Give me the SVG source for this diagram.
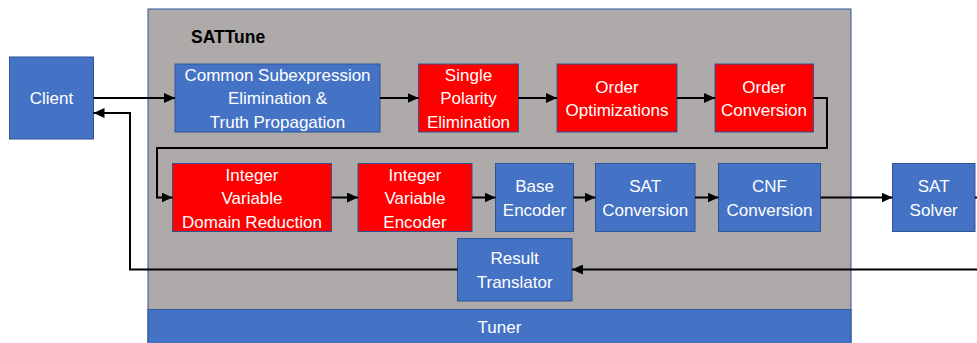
<svg xmlns="http://www.w3.org/2000/svg" width="977" height="343" viewBox="0 0 977 343">
<defs>
<style>
.blue{fill:#4472C4;stroke:#2F5597;stroke-width:1}
.red{fill:#FF0000;stroke:#2F5597;stroke-width:1}
.t{font-family:"Liberation Sans",Arial,sans-serif;font-size:17px;fill:#FFFFFF;text-anchor:middle}
.c{fill:none;stroke:#000;stroke-width:2}
</style>
<marker id="ah" markerUnits="userSpaceOnUse" markerWidth="12" markerHeight="10" refX="11" refY="5" orient="auto">
<path d="M0,0 L11,5 L0,10 Z" fill="#000"/>
</marker>
</defs>
<rect width="977" height="343" fill="#FFFFFF"/>
<g id="sattune">
<rect x="148" y="9" width="703" height="340" fill="#AEAAAA" stroke="#2F5597" stroke-width="1"/>
<text x="191" y="43" style="font-family:'Liberation Sans',Arial,sans-serif;font-size:17.5px;font-weight:bold;fill:#000">SATTune</text>
</g>
<g id="tuner">
<rect x="148" y="309.5" width="703" height="40" class="blue"/>
<text class="t" x="499.5" y="333">Tuner</text>
</g>
<g id="client">
<rect x="9.5" y="57" width="84" height="82" class="blue"/>
<text class="t" x="51.5" y="104">Client</text>
</g>
<g id="cse">
<rect x="175" y="64" width="205" height="68" class="blue"/>
<text class="t" x="277.5" y="81">Common Subexpression</text>
<text class="t" x="277.5" y="104.3">Elimination &amp;</text>
<text class="t" x="277.5" y="127.6">Truth Propagation</text>
</g>
<g id="spe">
<rect x="418.5" y="64" width="100" height="68" class="red"/>
<text class="t" x="468.5" y="81">Single</text>
<text class="t" x="468.5" y="104.3">Polarity</text>
<text class="t" x="468.5" y="127.6">Elimination</text>
</g>
<g id="oo">
<rect x="557" y="64" width="120" height="68" class="red"/>
<text class="t" x="617" y="92.7">Order</text>
<text class="t" x="617" y="116">Optimizations</text>
</g>
<g id="oc">
<rect x="715" y="64" width="98.5" height="68" class="red"/>
<text class="t" x="764" y="92.7">Order</text>
<text class="t" x="764" y="116">Conversion</text>
</g>
<g id="ivdr">
<rect x="172.5" y="163.5" width="159" height="68" class="red"/>
<text class="t" x="252" y="181">Integer</text>
<text class="t" x="252" y="204.3">Variable</text>
<text class="t" x="252" y="227.6">Domain Reduction</text>
</g>
<g id="ive">
<rect x="358" y="163.5" width="114" height="68" class="red"/>
<text class="t" x="415" y="181">Integer</text>
<text class="t" x="415" y="204.3">Variable</text>
<text class="t" x="415" y="227.6">Encoder</text>
</g>
<g id="be">
<rect x="495.5" y="163.5" width="78" height="68" class="blue"/>
<text class="t" x="534.5" y="192.2">Base</text>
<text class="t" x="534.5" y="215.5">Encoder</text>
</g>
<g id="satc">
<rect x="595.5" y="163.5" width="99.5" height="68" class="blue"/>
<text class="t" x="645.2" y="192.2">SAT</text>
<text class="t" x="645.2" y="215.5">Conversion</text>
</g>
<g id="cnf">
<rect x="718.5" y="163.5" width="102" height="68" class="blue"/>
<text class="t" x="769.5" y="192.2">CNF</text>
<text class="t" x="769.5" y="215.5">Conversion</text>
</g>
<g id="solver">
<rect x="892.5" y="163.5" width="82.5" height="68" class="blue"/>
<text class="t" x="933.7" y="192.2">SAT</text>
<text class="t" x="933.7" y="215.5">Solver</text>
</g>
<g id="rt">
<rect x="457.5" y="238.5" width="114.5" height="62.5" class="blue"/>
<text class="t" x="514.7" y="264">Result</text>
<text class="t" x="514.7" y="287.5">Translator</text>
</g>
<g id="connectors">
<path class="c" d="M93.5,98 H175" marker-end="url(#ah)"/>
<path class="c" d="M380,98 H418.5" marker-end="url(#ah)"/>
<path class="c" d="M518.5,98 H557" marker-end="url(#ah)"/>
<path class="c" d="M677,98 H715" marker-end="url(#ah)"/>
<path class="c" d="M813.5,98 H827 V148 H157 V197.5 H172.5" marker-end="url(#ah)"/>
<path class="c" d="M331.5,197.5 H358" marker-end="url(#ah)"/>
<path class="c" d="M472,197.5 H495.5" marker-end="url(#ah)"/>
<path class="c" d="M573.5,197.5 H595.5" marker-end="url(#ah)"/>
<path class="c" d="M695,197.5 H718.5" marker-end="url(#ah)"/>
<path class="c" d="M820.5,197.5 H892.5" marker-end="url(#ah)"/>
<path class="c" d="M975,197.5 H990 V269.5 H572" marker-end="url(#ah)"/>
<path class="c" d="M457.5,269.5 H130 V113 H93.5" marker-end="url(#ah)"/>
</g>
</svg>
